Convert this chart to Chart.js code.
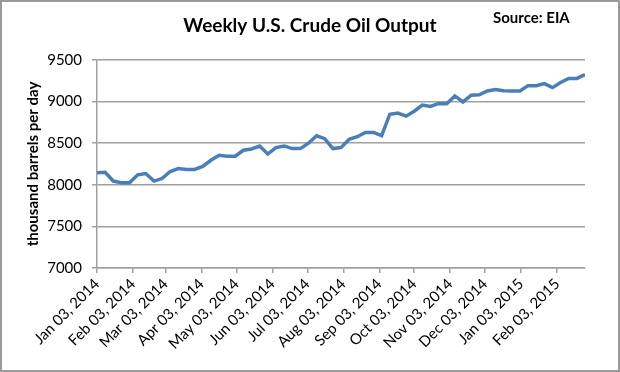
<!DOCTYPE html>
<html>
<head>
<meta charset="utf-8">
<script src="https://cdn.jsdelivr.net/npm/chart.js@4.4.1/dist/chart.umd.min.js"></script>
<style>
body { margin: 0; background: #fff; }
#wrap { width: 620px; height: 372px; }
</style>
</head>
<body>
<div id="wrap"><canvas id="myChart" width="620" height="372"></canvas></div>
<script>
// weekly dates (EIA week ending Friday)
var weekDates = [
    "2014-01-03", "2014-01-10", "2014-01-17", "2014-01-24", "2014-01-31",
    "2014-02-07", "2014-02-14", "2014-02-21", "2014-02-28",
    "2014-03-07", "2014-03-14", "2014-03-21", "2014-03-28",
    "2014-04-04", "2014-04-11", "2014-04-18", "2014-04-25",
    "2014-05-02", "2014-05-09", "2014-05-16", "2014-05-23", "2014-05-30",
    "2014-06-06", "2014-06-13", "2014-06-20", "2014-06-27",
    "2014-07-04", "2014-07-11", "2014-07-18", "2014-07-25",
    "2014-08-01", "2014-08-08", "2014-08-15", "2014-08-22", "2014-08-29",
    "2014-09-05", "2014-09-12", "2014-09-19", "2014-09-26",
    "2014-10-03", "2014-10-10", "2014-10-17", "2014-10-24", "2014-10-31",
    "2014-11-07", "2014-11-14", "2014-11-21", "2014-11-28",
    "2014-12-05", "2014-12-12", "2014-12-19", "2014-12-26",
    "2015-01-02", "2015-01-09", "2015-01-16", "2015-01-23", "2015-01-30",
    "2015-02-06", "2015-02-13", "2015-02-20", "2015-02-27"
];

// thousand barrels per day
var output = [
    8145, 8150, 8045, 8025, 8025, 8120, 8135, 8045, 8075, 8160,
    8195, 8185, 8185, 8220, 8295, 8355, 8343, 8343, 8415, 8431,
    8465, 8370, 8447, 8467, 8435, 8435, 8500, 8589, 8555, 8435,
    8447, 8547, 8578, 8630, 8630, 8590, 8848, 8862, 8825, 8884,
    8958, 8942, 8978, 8975, 9068, 8996, 9077, 9081, 9128, 9146,
    9130, 9128, 9128, 9192, 9192, 9216, 9168, 9229, 9277, 9279,
    9326
];

var tickDates = [
    "2014-01-03", "2014-02-03", "2014-03-03", "2014-04-03", "2014-05-03",
    "2014-06-03", "2014-07-03", "2014-08-03", "2014-09-03", "2014-10-03",
    "2014-11-03", "2014-12-03", "2015-01-03", "2015-02-03"
];
var tickLabels = [
    "Jan 03, 2014", "Feb 03, 2014", "Mar 03, 2014", "Apr 03, 2014", "May 03, 2014",
    "Jun 03, 2014", "Jul 03, 2014", "Aug 03, 2014", "Sep 03, 2014", "Oct 03, 2014",
    "Nov 03, 2014", "Dec 03, 2014", "Jan 03, 2015", "Feb 03, 2015"
];

var axisColor = "#a0a0a0";
var fontName = "Lato";

function dayNum(s) {
    var p = s.split("-");
    return (Date.UTC(+p[0], +p[1] - 1, +p[2]) - Date.UTC(2014, 0, 3)) / 86400000;
}

var pontos = weekDates.map(function (d, i) {
    return { x: dayNum(d), y: output[i] };
});

// frame, title and source note (title centred on the whole picture)
var moldura = {
    id: "moldura",
    beforeDraw: function (chart) {
        var c = chart.ctx;
        c.save();
        c.fillStyle = "#fff";
        c.fillRect(0, 0, chart.width, chart.height);
        c.restore();
    },
    afterDraw: function (chart) {
        var c = chart.ctx;
        c.save();
        c.strokeStyle = "#9a9a9a";
        c.lineWidth = 2;
        c.strokeRect(1, 1, chart.width - 2, chart.height - 2);
        c.fillStyle = "#000";
        c.textBaseline = "alphabetic";
        c.font = "bold 19px " + fontName;
        c.textAlign = "center";
        c.fillText("Weekly U.S. Crude Oil Output", chart.width / 2, 32);
        c.font = "bold 15px " + fontName;
        c.textAlign = "left";
        c.fillText("Source: EIA", 493, 23);
        c.restore();
    }
};

var ctx = document.getElementById("myChart").getContext("2d");
var myLineChart = new Chart(ctx, {
    type: "line",
    data: {
        datasets: [{
            data: pontos,
            borderColor: "#4a7ebb",
            borderWidth: 3.5,
            pointRadius: 0,
            tension: 0,
            fill: false
        }]
    },
    options: {
        responsive: false,
        animation: false,
        devicePixelRatio: 1,
        layout: { padding: { left: 0, right: 35, top: 60, bottom: 0 } },
        plugins: {
            legend: { display: false },
            tooltip: { enabled: false },
            title: { display: false }
        },
        scales: {
            x: {
                type: "linear",
                min: dayNum(weekDates[0]),
                max: dayNum(weekDates[weekDates.length - 1]),
                afterBuildTicks: function (scale) {
                    scale.ticks = tickDates.map(function (d) { return { value: dayNum(d) }; });
                },
                afterFit: function (scale) { scale.height = 104; },
                grid: { drawOnChartArea: false, drawTicks: true, tickLength: 5, color: axisColor, lineWidth: 1.5 },
                border: { display: true, color: axisColor, width: 1.5 },
                ticks: {
                    autoSkip: false,
                    minRotation: 45,
                    maxRotation: 45,
                    padding: 2,
                    color: "#000",
                    font: { family: fontName, size: 15 },
                    callback: function (v, i) { return tickLabels[i]; }
                }
            },
            y: {
                min: 7000,
                max: 9500,
                afterFit: function (scale) { scale.width = 97; },
                grid: { color: axisColor, lineWidth: 1.5, tickLength: 5 },
                border: { display: true, color: axisColor, width: 1.5 },
                ticks: {
                    stepSize: 500,
                    padding: 10,
                    color: "#000",
                    font: { family: fontName, size: 15 },
                    callback: function (v) { return String(v); }
                },
                title: {
                    display: true,
                    text: "thousand barrels per day",
                    color: "#000",
                    font: { family: fontName, size: 15, weight: "bold" },
                    padding: { top: 24, bottom: 0 }
                }
            }
        }
    },
    plugins: [moldura]
});
</script>
</body>
</html>
